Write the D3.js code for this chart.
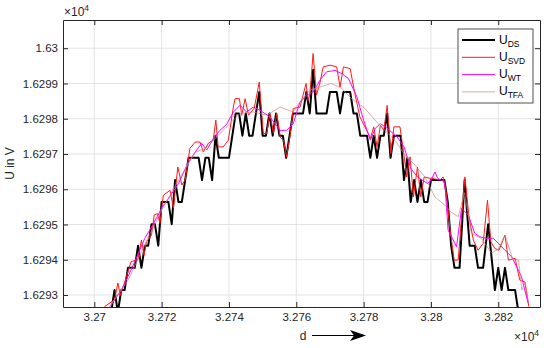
<!DOCTYPE html>
<html>
<head>
<meta charset="utf-8">
<script src="https://cdn.jsdelivr.net/npm/d3@7"></script>
<style>
  body { margin: 0; background: #fff; }
  svg { font-family: "Liberation Sans", Arial, sans-serif; }
</style>
</head>
<body>
<div id="chart"></div>
<script>
'use strict';

// tick values (raw units, labels are shown x1e4)
const xTicks = [32700, 32720, 32740, 32760, 32780, 32800, 32820];
const yTicks = [16293, 16294, 16295, 16296, 16297, 16298, 16299, 16300];

// U_DS - quantized signal
const dsD = [32705, 32706, 32707, 32708, 32709, 32710, 32712, 32713, 32714, 32715, 32716, 32717, 32718, 32719,
  32720, 32722, 32723, 32724, 32725, 32726, 32728, 32731, 32732, 32733, 32734, 32735, 32736, 32737, 32740,
  32742, 32743, 32744, 32745, 32746, 32747, 32749, 32750, 32751, 32752, 32753, 32754, 32755, 32756, 32757,
  32758, 32759, 32762, 32763, 32764, 32765, 32766, 32769, 32770, 32772, 32773, 32774, 32776, 32777, 32778,
  32779, 32781, 32782, 32783, 32784, 32785, 32786, 32787, 32788, 32789, 32791, 32792, 32793, 32794, 32795,
  32796, 32797, 32798, 32799, 32800, 32804, 32805, 32806, 32807, 32808.5, 32810, 32811.5, 32813, 32814,
  32815.5, 32817, 32819, 32820, 32821, 32822, 32823, 32825, 32826];
const dsU = [16292.51, 16293.14, 16292.51, 16293.14, 16293.14, 16293.77, 16293.77, 16294.40, 16293.77, 16294.40,
  16294.40, 16295.01, 16295.01, 16294.40, 16295.64, 16295.64, 16295.01, 16296.26, 16295.64, 16295.64, 16296.89,
  16296.89, 16296.26, 16296.89, 16296.89, 16296.26, 16297.52, 16296.89, 16296.89, 16298.15, 16298.15, 16297.52,
  16298.15, 16297.52, 16297.52, 16298.76, 16297.52, 16297.52, 16298.15, 16297.52, 16298.15, 16297.52, 16297.52,
  16296.89, 16297.52, 16298.15, 16298.15, 16298.76, 16298.15, 16299.39, 16298.15, 16298.15, 16298.76, 16298.76,
  16298.15, 16298.76, 16298.76, 16298.15, 16298.15, 16297.52, 16297.52, 16296.89, 16297.52, 16296.89, 16297.52,
  16297.52, 16298.15, 16296.89, 16297.52, 16297.52, 16296.26, 16296.89, 16295.64, 16296.26, 16295.64, 16296.26,
  16295.64, 16295.64, 16296.26, 16296.26, 16295.64, 16294.40, 16293.77, 16293.77, 16296.26, 16294.40, 16294.40,
  16293.77, 16293.77, 16295.01, 16293.14, 16293.77, 16293.14, 16293.77, 16293.14, 16293.14, 16292.51];

// U_SVD
const svdD = [32703, 32706, 32707, 32707.7, 32708.6, 32710.9, 32713, 32714, 32714.8, 32715.5, 32717, 32717.8,
  32718.8, 32719.5, 32720.5, 32722.5, 32723.5, 32724.8, 32726, 32727, 32728.4, 32730, 32731.4, 32732.4, 32733.9,
  32735.3, 32736.1, 32736.8, 32738.3, 32739.8, 32741.3, 32741.8, 32743.1, 32743.8, 32744.8, 32745.8, 32747.5,
  32749, 32749.7, 32750.2, 32751.2, 32752.2, 32753.2, 32754.2, 32755.2, 32756.2, 32757.1, 32758.1, 32759.1,
  32761.1, 32762.9, 32763.5, 32764, 32765, 32766, 32767, 32768, 32770, 32772, 32773, 32774, 32776, 32777.4,
  32778.9, 32779.9, 32781.4, 32782, 32783, 32784, 32785, 32786, 32787, 32788.1, 32789, 32790.8, 32791.8,
  32792.8, 32793.8, 32794.8, 32796, 32797, 32798, 32799.7, 32800.2, 32802.7, 32803.6, 32804.6, 32805.6,
  32806.9, 32808.1, 32809.1, 32810.1, 32811.3, 32812.6, 32814, 32815.5, 32816.8, 32817.8, 32819, 32820.2,
  32822, 32823, 32825, 32826.4, 32827.9, 32829.1];
const svdU = [16292.67, 16292.86, 16293.34, 16293.00, 16293.24, 16293.94, 16294.02, 16294.56, 16294.13, 16294.51,
  16294.70, 16295.27, 16295.31, 16295.03, 16295.83, 16295.97, 16295.46, 16296.63, 16296.12, 16296.26, 16297.16,
  16297.34, 16297.34, 16297.06, 16297.31, 16297.39, 16297.96, 16297.20, 16297.20, 16297.39, 16298.33, 16298.57,
  16298.57, 16298.10, 16298.57, 16298.10, 16298.30, 16299.04, 16298.16, 16297.58, 16297.58, 16298.16, 16297.58,
  16298.16, 16297.48, 16297.39, 16296.92, 16297.48, 16298.29, 16298.33, 16299.00, 16298.52, 16298.67, 16299.85,
  16298.67, 16299.01, 16299.47, 16299.52, 16299.47, 16298.90, 16299.47, 16299.42, 16298.71, 16298.05, 16297.86,
  16297.58, 16297.44, 16297.77, 16297.20, 16297.82, 16297.67, 16298.38, 16297.01, 16297.77, 16297.77, 16297.11,
  16296.35, 16296.92, 16295.78, 16296.63, 16295.78, 16296.35, 16296.31, 16296.31, 16296.26, 16296.35, 16295.88,
  16294.93, 16293.99, 16293.99, 16295.22, 16296.35, 16295.22, 16294.56, 16294.27, 16294.46, 16295.69, 16294.51,
  16294.32, 16294.27, 16294.70, 16293.99, 16294.04, 16293.42, 16293.37, 16292.67];

// U_WT
const wtD = [32704.7, 32706, 32708, 32710, 32712.5, 32715, 32717.5, 32720, 32722.5, 32725, 32727.5, 32730,
  32731.9, 32733.4, 32735.4, 32737.3, 32739.3, 32741.3, 32743.3, 32745.2, 32747.2, 32749.2, 32752.2, 32755.2,
  32757.1, 32759.1, 32761.1, 32763, 32765, 32767, 32769, 32771.5, 32773.5, 32775.5, 32778, 32780, 32782,
  32783.5, 32785, 32787, 32790, 32792, 32794, 32796, 32799, 32800, 32801.2, 32802, 32804.1, 32805.1, 32807.6,
  32809.1, 32811.1, 32813, 32814.5, 32816.5, 32818.5, 32820.5, 32822, 32824, 32826.9, 32828.9];
const wtU = [16292.67, 16292.86, 16293.14, 16293.52, 16294.05, 16294.61, 16295.01, 16295.46, 16295.80, 16296.16,
  16296.68, 16297.06, 16297.30, 16297.11, 16297.44, 16297.67, 16297.84, 16298.19, 16298.38, 16298.19, 16298.33,
  16298.24, 16298.05, 16297.67, 16297.67, 16297.86, 16298.48, 16298.64, 16298.76, 16299.09, 16299.33, 16299.37,
  16299.28, 16299.14, 16298.62, 16297.96, 16297.39, 16297.73, 16297.86, 16297.73, 16297.48, 16297.20, 16296.59,
  16296.35, 16296.16, 16296.26, 16296.49, 16296.31, 16296.21, 16294.84, 16294.37, 16295.46, 16295.27, 16294.75,
  16294.65, 16294.61, 16294.61, 16294.42, 16294.27, 16294.08, 16293.52, 16292.76];

// U_TFA
const tfaD = [32704.5, 32710, 32715, 32720, 32725, 32730, 32733, 32736.3, 32739.3, 32743.3, 32747.2, 32751.2,
  32755.2, 32759.1, 32761.1, 32764.1, 32767, 32770.5, 32773.5, 32776.4, 32780.4, 32783.4, 32786.3, 32789.3,
  32792.3, 32795.3, 32798.2, 32801.2, 32804.1, 32806, 32808.1, 32810, 32812, 32815, 32818, 32820, 32822,
  32824.4, 32826, 32827, 32828, 32829];
const tfaU = [16292.67, 16293.42, 16294.42, 16295.41, 16296.26, 16297.05, 16297.16, 16297.48, 16297.77, 16298.15,
  16298.19, 16298.10, 16298.33, 16298.19, 16298.48, 16298.81, 16298.90, 16299.00, 16298.86, 16298.57, 16298.29,
  16297.96, 16297.67, 16297.39, 16296.97, 16296.68, 16296.35, 16295.78, 16295.55, 16295.35, 16295.22, 16295.90,
  16294.75, 16294.61, 16294.19, 16294.30, 16294.70, 16293.99, 16294.00, 16293.14, 16293.37, 16292.76];

const series = [
  { sub: "DS", d: dsD, u: dsU, color: "#000000", width: 2 },
  { sub: "SVD", d: svdD, u: svdU, color: "#ff1a1a", width: 1 },
  { sub: "WT", d: wtD, u: wtU, color: "#ff00ff", width: 1 },
  { sub: "TFA", d: tfaD, u: tfaU, color: "#cc8282", width: 0.7 }
];

const W = 550, H = 348;
const margin = { top: 20, right: 10, bottom: 41, left: 63 };
const width = W - margin.left - margin.right;
const height = H - margin.top - margin.bottom;
const axisColor = "#262626";

const svg = d3.select("#chart").append("svg")
  .attr("width", W)
  .attr("height", H);

const g = svg.append("g")
  .attr("transform", "translate(" + margin.left + "," + margin.top + ")");

const x = d3.scaleLinear().domain([32690.7, 32832.4]).range([0, width]);
const y = d3.scaleLinear().domain([16292.66, 16300.8]).range([height, 0]);

const fmt = v => d3.format(".5~g")(v / 1e4);

// grid
g.append("g").selectAll("line").data(xTicks).enter().append("line")
  .attr("x1", d => x(d)).attr("x2", d => x(d))
  .attr("y1", 0).attr("y2", height)
  .attr("stroke", "#e3e3e3").attr("stroke-width", 1);
g.append("g").selectAll("line").data(yTicks).enter().append("line")
  .attr("x1", 0).attr("x2", width)
  .attr("y1", d => y(d)).attr("y2", d => y(d))
  .attr("stroke", "#e3e3e3").attr("stroke-width", 1);

// data lines, clipped to the plot box
g.append("clipPath").attr("id", "plotClip")
  .append("rect").attr("width", width).attr("height", height);

const line = d3.line()
  .x(p => x(p[0]))
  .y(p => y(p[1]));

const lines = g.append("g").attr("clip-path", "url(#plotClip)");
series.forEach(s => {
  lines.append("path")
    .datum(s.d.map((d, i) => [d, s.u[i]]))
    .attr("fill", "none")
    .attr("stroke", s.color)
    .attr("stroke-width", s.width)
    .attr("stroke-linejoin", "round")
    .attr("d", line);
});

// axes (ticks inside, box all round)
function styleAxis(sel) {
  sel.select(".domain").attr("stroke", axisColor).attr("stroke-width", 1);
  sel.selectAll(".tick line").attr("stroke", axisColor);
  sel.selectAll(".tick text").attr("fill", axisColor).attr("font-size", "11.5px");
}

g.append("g")
  .attr("transform", "translate(0," + height + ")")
  .call(d3.axisBottom(x).tickValues(xTicks).tickFormat(fmt).tickSizeInner(-5).tickSizeOuter(0).tickPadding(6))
  .call(styleAxis);
g.append("g")
  .call(d3.axisTop(x).tickValues(xTicks).tickFormat("").tickSizeInner(-5).tickSizeOuter(0))
  .call(styleAxis);
g.append("g")
  .call(d3.axisLeft(y).tickValues(yTicks).tickFormat(fmt).tickSizeInner(-5).tickSizeOuter(0).tickPadding(5))
  .call(styleAxis);
g.append("g")
  .attr("transform", "translate(" + width + ",0)")
  .call(d3.axisRight(y).tickValues(yTicks).tickFormat("").tickSizeInner(-5).tickSizeOuter(0))
  .call(styleAxis);

// exponent labels
function expLabel(px, py) {
  let t = svg.append("text")
    .attr("x", px).attr("y", py)
    .attr("fill", axisColor)
    .attr("font-size", "12px");
  t.append("tspan").text("\u00d710");
  t.append("tspan").attr("font-size", "8.5px").attr("dy", -5).text("4");
}
expLabel(64, 16);
expLabel(514, 341);

// axis labels
svg.append("text")
  .attr("transform", "translate(14," + (margin.top + height / 2) + ") rotate(-90)")
  .attr("text-anchor", "middle")
  .attr("fill", axisColor)
  .attr("font-size", "12px")
  .text("U in V");

svg.append("text")
  .attr("x", 303).attr("y", 340)
  .attr("text-anchor", "middle")
  .attr("fill", axisColor)
  .attr("font-size", "12px")
  .text("d");

svg.append("line")
  .attr("x1", 312).attr("x2", 356)
  .attr("y1", 335.5).attr("y2", 335.5)
  .attr("stroke", "#000").attr("stroke-width", 1);
svg.append("path")
  .attr("d", "M366,335.5 L350,330 L354,335.5 L350,341 Z")
  .attr("fill", "#000");

// legend
const leg = svg.append("g").attr("transform", "translate(458,29)");
leg.append("rect")
  .attr("width", 75).attr("height", 74)
  .attr("fill", "#fff")
  .attr("stroke", axisColor)
  .attr("stroke-width", 0.8);

series.forEach((s, i) => {
  let ly = 11 + i * 17.3;
  leg.append("line")
    .attr("x1", 4).attr("x2", 37)
    .attr("y1", ly).attr("y2", ly)
    .attr("stroke", s.color)
    .attr("stroke-width", s.width);
  let t = leg.append("text")
    .attr("x", 41).attr("y", ly + 3.5)
    .attr("fill", "#000")
    .attr("font-size", "12px");
  t.append("tspan").text("U");
  t.append("tspan").attr("font-size", "8.5px").attr("dy", 3).text(s.sub);
});
</script>
</body>
</html>
